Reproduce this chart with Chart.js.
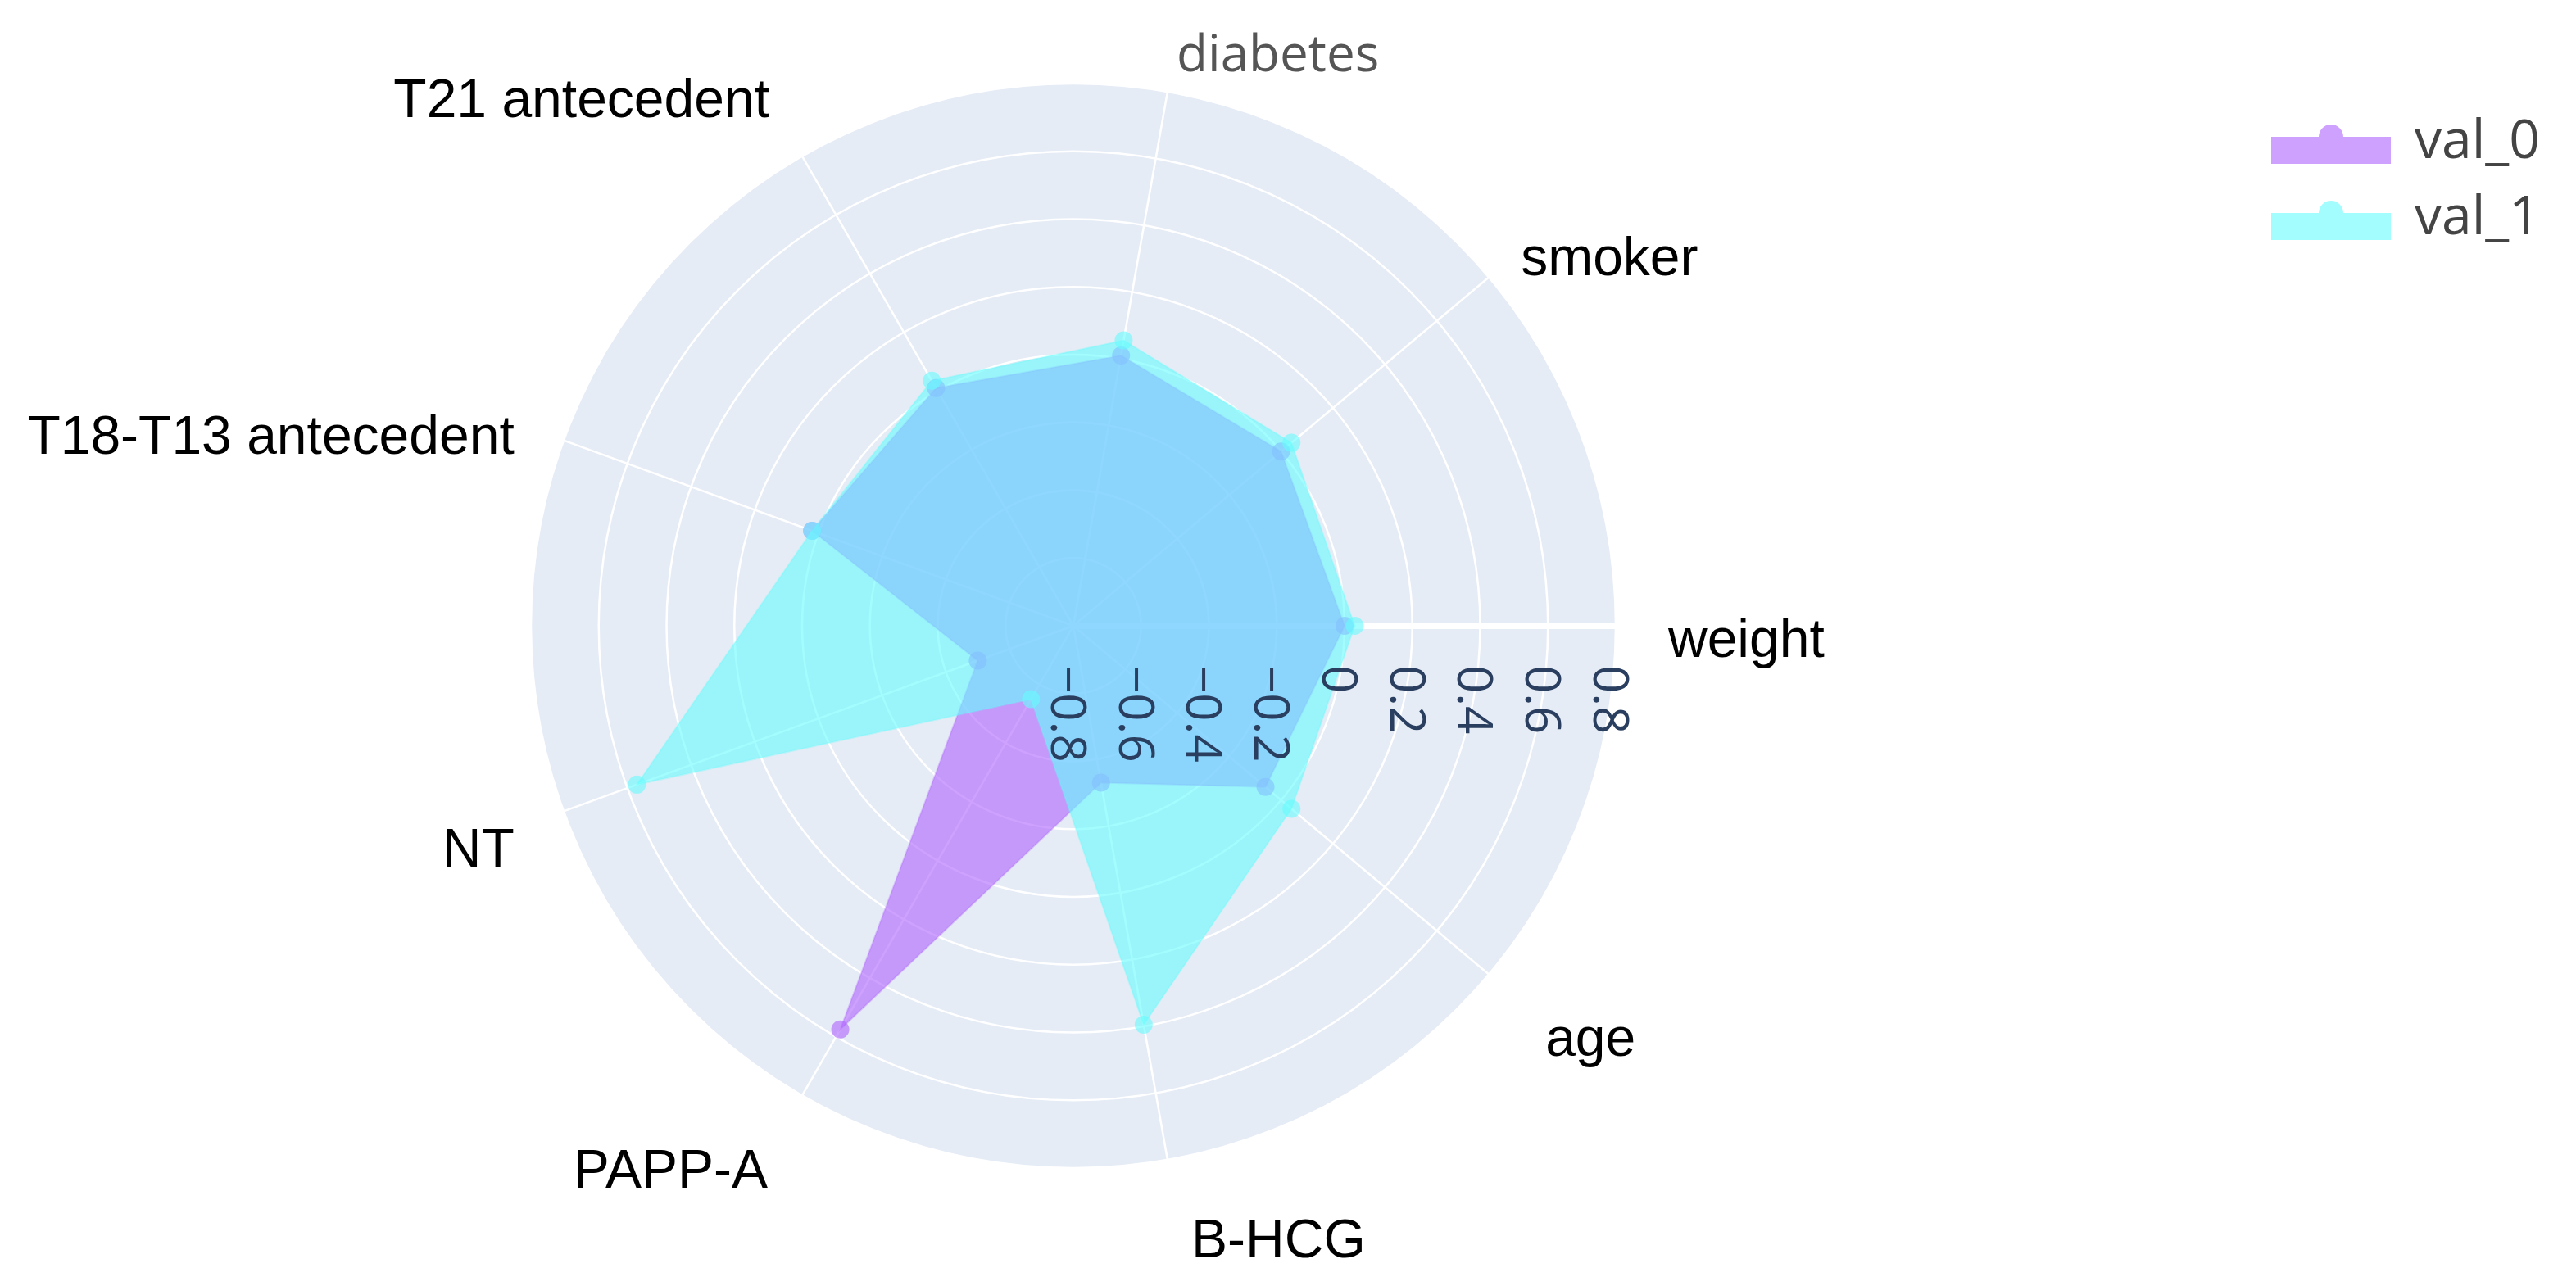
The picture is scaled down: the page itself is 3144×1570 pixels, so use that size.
<!DOCTYPE html>
<html>
<head>
<meta charset="utf-8">
<title>radar</title>
<script src="https://cdn.jsdelivr.net/npm/chart.js@4.4.1/dist/chart.umd.min.js"></script>
<style>
  html, body { margin: 0; padding: 0; background: #fff; }
  #radar { display: block; }
</style>
</head>
<body>
<canvas id="radar" width="3144" height="1570"></canvas>
<script>
// categories, counterclockwise starting at east (as in the source figure)
const categories = ['weight', 'smoker', 'diabetes', 'T21 antecedent', 'T18-T13 antecedent', 'NT', 'PAPP-A', 'B-HCG', 'age'];
const val0 = [0.0, 0.0, 0.01, 0.01, 0.02, -0.50, 0.575, -0.33, -0.06];
const val1 = [0.03, 0.04, 0.055, 0.035, 0.02, 0.57, -0.55, 0.395, 0.04];
const seriesNames = ['val_0', 'val_1'];
const tickValues = [-0.8, -0.6, -0.4, -0.2, 0, 0.2, 0.4, 0.6, 0.8];
const tickLabels = ['\u22120.8', '\u22120.6', '\u22120.4', '\u22120.2', '0', '0.2', '0.4', '0.6', '0.8'];

const purple = '174, 99, 253';
const cyan = '101, 251, 253';
const alpha = 0.6;

// small hand nudges for a few angular labels (they sit a little off in the original)
const labelNudge = {
    'T21 antecedent': [-8, -30],
    'smoker': [-10, 0],
    'PAPP-A': [-10, 0],
    'B-HCG': [18, -4],
    'age': [20, 6]
};

// Chart.js walks the radar clockwise, so flip the order after the first entry
function clockwise(arr) {
    return [arr[0]].concat(arr.slice(1).reverse());
}

const polarExtras = {
    id: 'polarExtras',
    beforeDatasetsDraw(chart) {
        const r = chart.scales.r;
        const ctx = chart.ctx;
        // radial axis line along the 0 degree direction
        const end = r.getPointPosition(0, r.drawingArea);
        ctx.save();
        ctx.strokeStyle = '#ffffff';
        ctx.lineWidth = 8;
        ctx.beginPath();
        ctx.moveTo(r.xCenter, r.yCenter);
        ctx.lineTo(end.x, end.y);
        ctx.stroke();
        ctx.restore();
    },
    afterDatasetsDraw(chart) {
        const r = chart.scales.r;
        const ctx = chart.ctx;

        // radial tick labels, turned a quarter clockwise, under the axis line
        ctx.save();
        ctx.font = '60px "Open Sans"';
        ctx.fillStyle = '#2a3f5f';
        ctx.textAlign = 'left';
        ctx.textBaseline = 'middle';
        tickValues.forEach((v, k) => {
            const x = r.xCenter + r.getDistanceFromCenterForValue(v);
            ctx.save();
            ctx.translate(x - 10, r.yCenter + 48);
            ctx.rotate(Math.PI / 2);
            ctx.fillText(tickLabels[k], 0, 0);
            ctx.restore();
        });
        ctx.restore();

        // category labels around the circle
        chart.data.labels.forEach((label, i) => {
            const p = r.getPointPosition(i, r.drawingArea + 64);
            const c = Math.cos(p.angle);
            const s = Math.sin(p.angle);
            const nudge = labelNudge[label] || [0, 0];
            ctx.save();
            if (label === 'diabetes') {
                ctx.font = '62px "Open Sans"';
                ctx.fillStyle = '#555555';
            } else {
                ctx.font = '66px "Liberation Sans"';
                ctx.fillStyle = '#000000';
            }
            ctx.textAlign = c > 0.01 ? 'left' : (c < -0.01 ? 'right' : 'center');
            ctx.textBaseline = 'middle';
            const dy = 20 + (s > 0 ? 22 * s : 0);
            ctx.fillText(label, p.x + nudge[0], p.y + dy + nudge[1]);
            ctx.restore();
        });
    },
    afterDraw(chart) {
        const ctx = chart.ctx;
        // legend, top right
        const colors = [purple, cyan];
        seriesNames.forEach((name, k) => {
            const top = 167 + k * 93;
            ctx.save();
            ctx.fillStyle = 'rgba(' + colors[k] + ', ' + alpha + ')';
            ctx.beginPath();
            ctx.rect(2772, top, 146, 33);
            ctx.moveTo(2845 + 15, top);
            ctx.arc(2845, top, 15, 0, Math.PI * 2);
            ctx.fill('nonzero');
            ctx.font = '66px "Open Sans"';
            ctx.fillStyle = '#444444';
            ctx.textAlign = 'left';
            ctx.textBaseline = 'alphabetic';
            ctx.fillText(name, 2947, top + 26);
            ctx.restore();
        });
    }
};

const ctx = document.getElementById('radar').getContext('2d');

new Chart(ctx, {
    type: 'radar',
    data: {
        labels: clockwise(categories),
        datasets: [
            {
                label: seriesNames[0],
                data: clockwise(val0),
                order: 2,
                fill: 'start',
                backgroundColor: 'rgba(' + purple + ', ' + alpha + ')',
                borderColor: 'rgba(' + purple + ', 0.3)',
                borderWidth: 2,
                pointRadius: 11,
                pointBorderWidth: 0,
                pointBackgroundColor: 'rgba(' + purple + ', ' + alpha + ')'
            },
            {
                label: seriesNames[1],
                data: clockwise(val1),
                order: 1,
                fill: 'start',
                backgroundColor: 'rgba(' + cyan + ', ' + alpha + ')',
                borderColor: 'rgba(' + cyan + ', 0.3)',
                borderWidth: 2,
                pointRadius: 11,
                pointBorderWidth: 0,
                pointBackgroundColor: 'rgba(' + cyan + ', ' + alpha + ')'
            }
        ]
    },
    options: {
        responsive: false,
        animation: false,
        layout: {
            padding: { left: 648, right: 1172, top: 102, bottom: 144 }
        },
        elements: {
            line: { tension: 0 }
        },
        plugins: {
            legend: { display: false },
            tooltip: { enabled: false }
        },
        scales: {
            r: {
                min: -0.8,
                max: 0.8,
                startAngle: 90,
                backgroundColor: '#E5ECF6',
                grid: { circular: true, color: '#ffffff', lineWidth: 2.5 },
                angleLines: { color: '#ffffff', lineWidth: 2.5 },
                ticks: { display: false, stepSize: 0.2 },
                pointLabels: { display: false },
                afterBuildTicks(scale) {
                    scale.ticks = tickValues.map(v => ({ value: v }));
                }
            }
        }
    },
    plugins: [polarExtras]
});
</script>
</body>
</html>
